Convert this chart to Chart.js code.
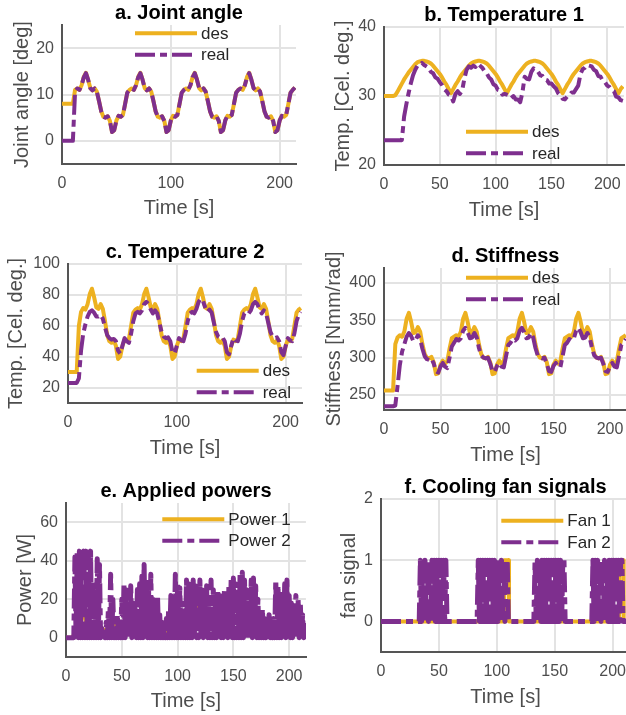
<!DOCTYPE html>
<html>
<head>
<meta charset="utf-8">
<script src="https://cdn.jsdelivr.net/npm/chart.js@4.4.1/dist/chart.umd.min.js"></script>
<style>
  html, body { margin: 0; padding: 0; background: #fff; }
  body { width: 626px; height: 715px; position: relative; overflow: hidden; }
  canvas { position: absolute; }
</style>
</head>
<body>
<canvas id="chartA"></canvas>
<canvas id="chartB"></canvas>
<canvas id="chartC"></canvas>
<canvas id="chartD"></canvas>
<canvas id="chartE"></canvas>
<canvas id="chartF"></canvas>
<script>
/* ===== DATA ===== */
// time base, 2 s steps
const time2 = [
  0, 2, 4, 6, 8, 10, 12, 14, 16, 18,
  20, 22, 24, 26, 28, 30, 32, 34, 36, 38,
  40, 42, 44, 46, 48, 50, 52, 54, 56, 58,
  60, 62, 64, 66, 68, 70, 72, 74, 76, 78,
  80, 82, 84, 86, 88, 90, 92, 94, 96, 98,
  100, 102, 104, 106, 108, 110, 112, 114, 116, 118,
  120, 122, 124, 126, 128, 130, 132, 134, 136, 138,
  140, 142, 144, 146, 148, 150, 152, 154, 156, 158,
  160, 162, 164, 166, 168, 170, 172, 174, 176, 178,
  180, 182, 184, 186, 188, 190, 192, 194, 196, 198,
  200, 202, 204, 206, 208, 210, 212, 214
];

// time base, 1 s steps
const time1 = [
  0, 1, 2, 3, 4, 5, 6, 7, 8, 9, 10, 11, 12, 13, 14, 15, 16, 17, 18, 19,
  20, 21, 22, 23, 24, 25, 26, 27, 28, 29, 30, 31, 32, 33, 34, 35, 36, 37, 38, 39,
  40, 41, 42, 43, 44, 45, 46, 47, 48, 49, 50, 51, 52, 53, 54, 55, 56, 57, 58, 59,
  60, 61, 62, 63, 64, 65, 66, 67, 68, 69, 70, 71, 72, 73, 74, 75, 76, 77, 78, 79,
  80, 81, 82, 83, 84, 85, 86, 87, 88, 89, 90, 91, 92, 93, 94, 95, 96, 97, 98, 99,
  100, 101, 102, 103, 104, 105, 106, 107, 108, 109, 110, 111, 112, 113, 114, 115, 116, 117, 118, 119,
  120, 121, 122, 123, 124, 125, 126, 127, 128, 129, 130, 131, 132, 133, 134, 135, 136, 137, 138, 139,
  140, 141, 142, 143, 144, 145, 146, 147, 148, 149, 150, 151, 152, 153, 154, 155, 156, 157, 158, 159,
  160, 161, 162, 163, 164, 165, 166, 167, 168, 169, 170, 171, 172, 173, 174, 175, 176, 177, 178, 179,
  180, 181, 182, 183, 184, 185, 186, 187, 188, 189, 190, 191, 192, 193, 194, 195, 196, 197, 198, 199,
  200, 201, 202, 203, 204, 205, 206, 207, 208, 209, 210, 211, 212, 213, 214, 215
];

// a. joint angle [deg]
const angleDes = [
  8, 8, 8, 8, 8, 8,
  11.0, 11.3, 11.0, 12.0, 13.8, 14.7, 13.2, 11.4, 10.9, 11.3, 10.6, 8.6, 6.4, 5.2, 5.0, 5.3, 4.3, 1.9, 2.3, 4.4, 5.4, 5.2, 5.6, 8.0, 10.4,
  11.0, 11.3, 11.0, 12.0, 13.8, 14.7, 13.2, 11.4, 10.9, 11.3, 10.6, 8.6, 6.4, 5.2, 5.0, 5.3, 4.3, 1.9, 2.3, 4.4, 5.4, 5.2, 5.6, 8.0, 10.4,
  11.0, 11.3, 11.0, 12.0, 13.8, 14.7, 13.2, 11.4, 10.9, 11.3, 10.6, 8.6, 6.4, 5.2, 5.0, 5.3, 4.3, 1.9, 2.3, 4.4, 5.4, 5.2, 5.6, 8.0, 10.4,
  11.0, 11.3, 11.0, 12.0, 13.8, 14.7, 13.2, 11.4, 10.9, 11.3, 10.6, 8.6, 6.4, 5.2, 5.0, 5.3, 4.3, 1.9, 2.3, 4.4, 5.4, 5.2, 5.6, 8.0, 10.4,
  11.0, 11.5
];
const angleReal = [
  0, 0, 0, 0, 0, 0,
  10.5, 11.3, 11.0, 12.0, 13.7, 14.6, 13.2, 11.4, 10.9, 11.3, 10.6, 8.6, 6.4, 5.2, 5.0, 5.3, 4.3, 1.9, 2.3, 4.4, 5.4, 5.2, 5.6, 8.0, 10.4,
  11.0, 11.3, 11.0, 12.0, 13.7, 14.6, 13.2, 11.4, 10.9, 11.3, 10.6, 8.6, 6.4, 5.2, 5.0, 5.3, 4.3, 1.9, 2.3, 4.4, 5.4, 5.2, 5.6, 8.0, 10.4,
  11.0, 11.3, 11.0, 12.0, 13.7, 14.6, 13.2, 11.4, 10.9, 11.3, 10.6, 8.6, 6.4, 5.2, 5.0, 5.3, 4.3, 1.9, 2.3, 4.4, 5.4, 5.2, 5.6, 8.0, 10.4,
  11.0, 11.3, 11.0, 12.0, 13.7, 14.6, 13.2, 11.4, 10.9, 11.3, 10.6, 8.6, 6.4, 5.2, 5.0, 5.3, 4.3, 1.9, 2.3, 4.4, 5.4, 5.2, 5.6, 8.0, 10.4,
  11.0, 11.5
];

// b. temperature 1 [Cel. deg.]
const temp1Des = [
  30, 30, 30, 30, 30,
  30.1, 30.6, 31.2, 31.8, 32.4, 32.9, 33.4, 33.8, 34.2, 34.6, 34.9, 35.0, 35.1, 35.1, 35.0, 34.9, 34.7, 34.4, 34.0, 33.6, 33.2, 32.7, 32.1, 31.6, 31.0,
  30.4, 31.0, 31.6, 32.1, 32.7, 33.2, 33.6, 34.0, 34.4, 34.7, 34.9, 35.0, 35.1, 35.1, 35.0, 34.9, 34.7, 34.4, 34.0, 33.6, 33.2, 32.7, 32.1, 31.6, 31.0,
  30.4, 31.0, 31.6, 32.1, 32.7, 33.2, 33.6, 34.0, 34.4, 34.7, 34.9, 35.0, 35.1, 35.1, 35.0, 34.9, 34.7, 34.4, 34.0, 33.6, 33.2, 32.7, 32.1, 31.6, 31.0,
  30.4, 31.0, 31.6, 32.1, 32.7, 33.2, 33.6, 34.0, 34.4, 34.7, 34.9, 35.0, 35.1, 35.1, 35.0, 34.9, 34.7, 34.4, 34.0, 33.6, 33.2, 32.7, 32.1, 31.6, 31.0,
  30.4, 31.0, 31.4
];
const temp1Real = [
  23.6, 23.6, 23.6, 23.6, 23.6, 23.6, 23.6, 23.6, 23.6, 27.0,
  28.8, 30.4, 31.8, 33.0, 33.8, 34.4, 34.5, 34.8, 34.5, 34.3,
  34.1, 33.5, 33.3, 32.7, 32.5, 32.0, 31.6, 31.0, 30.7, 30.2,
  30.0, 29.2, 30.3, 30.7, 30.3, 30.8, 32.5, 33.8, 34.3, 34.1,
  34.4, 34.2, 34.7, 34.4, 34.1, 33.6, 33.3, 32.7, 32.4, 31.7,
  31.5, 30.9, 30.8, 30.2, 30.3, 30.2, 30.1, 29.7, 30.0, 29.5,
  29.5, 29.1, 30.5, 32.8, 32.5, 32.4, 33.5, 34.0, 33.7, 33.5,
  33.0, 32.9, 32.4, 32.3, 31.8, 31.8, 31.4, 31.1, 30.4, 30.1,
  29.6, 29.5, 29.9, 30.1, 30.5, 30.5, 31.0, 31.5, 33.2, 33.9,
  34.1, 34.5, 34.4, 34.3, 33.8, 33.6, 32.9, 32.8, 32.2, 32.0,
  31.5, 31.3, 30.9, 30.7, 29.9, 29.8, 29.4, 29.3
];

// c. temperature 2 [Cel. deg.]
const temp2Des = [
  30, 30, 30, 30, 30, 60,
  69, 71.5, 70.5, 74, 80.5, 84, 78.5, 72, 71, 74, 71, 63, 54, 50, 49, 50.5, 47, 38.5, 40, 47, 51, 50, 51.5, 60, 68.5,
  70.5, 71.5, 70.5, 74, 80.5, 84, 78.5, 72, 71, 74, 71, 63, 54, 50, 49, 50.5, 47, 38.5, 40, 47, 51, 50, 51.5, 60, 68.5,
  70.5, 71.5, 70.5, 74, 80.5, 84, 78.5, 72, 71, 74, 71, 63, 54, 50, 49, 50.5, 47, 38.5, 40, 47, 51, 50, 51.5, 60, 68.5,
  70.5, 71.5, 70.5, 74, 80.5, 84, 78.5, 72, 71, 74, 71, 63, 54, 50, 49, 50.5, 47, 38.5, 40, 47, 51, 50, 51.5, 60, 68.5,
  70.5, 71.5
];
const temp2Real = [
  23, 23, 23, 23, 23, 26,
  44, 55, 61, 66, 69, 70, 68.5, 66, 66, 67, 64.5, 59, 54, 52, 51, 51.5, 50, 44, 42, 47, 52, 50, 49, 55, 63,
  68, 69, 68, 70, 74, 75.5, 74, 70.5, 68, 70, 68, 62, 56, 53, 52, 52.5, 50, 43, 42, 47, 52, 50.5, 50, 55, 63,
  68, 69, 68, 71, 75.5, 77.5, 76, 72, 69, 70.5, 68.5, 62, 56, 53, 52, 52.5, 50, 43, 41.5, 47, 52, 50.5, 50, 55, 63,
  68, 69, 68, 70, 74, 75.5, 74, 70.5, 68, 70, 68, 62, 56, 53, 52, 52.5, 50, 43, 41, 47, 52, 50.5, 50, 55, 63,
  67, 69
];

// d. stiffness [Nmm/rad]
const stiffDes = [
  256, 256, 256, 256, 256, 318,
  327, 330, 328, 335, 352, 360, 348, 333, 334, 341, 335, 318, 305, 300, 299, 301, 294, 278, 279, 291, 296, 292, 295, 312, 326,
  328, 330, 328, 335, 352, 360, 348, 333, 334, 341, 335, 318, 305, 300, 299, 301, 294, 278, 279, 291, 296, 292, 295, 312, 326,
  328, 330, 328, 335, 352, 360, 348, 333, 334, 341, 335, 318, 305, 300, 299, 301, 294, 278, 279, 291, 296, 292, 295, 312, 326,
  328, 330, 328, 335, 352, 360, 348, 333, 334, 341, 335, 318, 305, 300, 299, 301, 294, 278, 279, 291, 296, 292, 295, 312, 326,
  328, 330
];
const stiffReal = [
  235, 235, 235, 235, 235, 236,
  262, 290, 308, 318, 328, 333, 329, 322, 324, 330, 325, 312, 302, 298, 297, 299, 292, 282, 280, 288, 293, 288, 286, 300, 315,
  320, 325, 323, 326, 336, 340, 334, 326, 327, 333, 327, 313, 303, 300, 299, 300, 292, 282, 281, 289, 293, 288, 287, 302, 317,
  320, 325, 323, 326, 336, 340, 334, 326, 327, 333, 327, 313, 303, 300, 299, 300, 292, 282, 281, 289, 293, 288, 287, 302, 317,
  320, 325, 323, 326, 336, 340, 334, 326, 327, 333, 327, 313, 303, 300, 299, 300, 292, 282, 281, 289, 293, 288, 287, 302, 317,
  320, 325
];

// e. applied powers [W]  (power1 on time2, power2 on time1)
const power1 = [
  0, 0, 0, 0, 3, 10, 30, 22, 12, 8,
  6, 5, 4, 6, 5, 4, 5, 4, 4, 5,
  3, 4, 6, 8, 7, 4, 3, 4, 3, 4,
  3, 4, 5, 8, 10, 9, 6, 5, 4, 3,
  5, 6, 4, 5, 3, 3, 4, 7, 5, 4,
  3, 3, 2, 3, 3, 6, 9, 12, 14, 16,
  17, 15, 12, 10, 12, 10, 8, 6, 5, 4,
  3, 3, 4, 3, 5, 4, 3, 4, 6, 9,
  11, 13, 12, 8, 6, 4, 3, 3, 4, 5,
  3, 4, 8, 6, 4, 3, 3, 4, 3, 3,
  4, 5, 3, 4, 3, 3, 4, 3
];
const power2 = [
  0, 0, 0, 0, 0, 0, 0, 0, 42, 0, 44, 0, 45, 0, 44, 0, 45, 0, 45, 0,
  44, 0, 45, 0, 30, 0, 20, 0, 41, 0, 38, 0, 5, 0, 3, 0, 8, 0, 15, 0,
  33, 0, 20, 0, 10, 0, 12, 0, 5, 0, 20, 0, 28, 0, 25, 0, 22, 0, 27, 0,
  18, 0, 15, 0, 25, 0, 28, 0, 32, 0, 38, 0, 30, 0, 25, 0, 33, 0, 20, 0,
  15, 0, 22, 0, 12, 0, 8, 0, 6, 0, 10, 0, 15, 0, 22, 0, 20, 0, 33, 0,
  28, 0, 26, 0, 18, 0, 14, 0, 30, 0, 28, 0, 25, 0, 30, 0, 27, 0, 20, 0,
  30, 0, 25, 0, 20, 0, 27, 0, 22, 0, 30, 0, 25, 0, 18, 0, 25, 0, 22, 0,
  20, 0, 25, 0, 22, 0, 27, 0, 30, 0, 31, 0, 28, 0, 25, 0, 33, 0, 34, 0,
  30, 0, 25, 0, 20, 0, 30, 0, 31, 0, 27, 0, 20, 0, 12, 0, 15, 0, 10, 0,
  8, 0, 12, 0, 5, 0, 10, 0, 30, 0, 27, 0, 24, 0, 20, 0, 28, 0, 30, 0,
  22, 0, 18, 0, 15, 0, 22, 0, 20, 0, 18, 0, 12, 0, 8, 0
];

// f. cooling fan signals
const fan1Time = [0, 106, 106.5, 110, 110.5, 205, 205.5, 209, 209.5, 215];
const fan1 = [0, 0, 1, 1, 0, 0, 1, 1, 0, 0];
const fan2 = [
  0, 0, 0, 0, 0, 0, 0, 0, 0, 0, 0, 0, 0, 0, 0, 0, 0, 0, 0, 0,
  0, 0, 0, 0, 0, 0, 0, 0, 0, 0, 0, 0, 0, 0, 1, 0, 1, 0, 1, 0,
  1, 0, 1, 0, 1, 0, 1, 0, 1, 0, 1, 0, 1, 0, 1, 0, 1, 0, 0, 0,
  0, 0, 0, 0, 0, 0, 0, 0, 0, 0, 0, 0, 0, 0, 0, 0, 0, 0, 0, 0,
  0, 0, 0, 0, 1, 0, 1, 0, 1, 0, 1, 0, 1, 0, 1, 0, 1, 0, 1, 0,
  1, 0, 1, 0, 1, 0, 1, 0, 1, 1, 0, 0, 0, 0, 0, 0, 0, 0, 0, 0,
  0, 0, 0, 0, 0, 0, 0, 0, 0, 0, 0, 0, 0, 1, 0, 1, 0, 1, 0, 1,
  0, 1, 0, 1, 0, 1, 0, 1, 0, 1, 0, 1, 0, 1, 0, 1, 0, 1, 1, 0,
  0, 0, 0, 0, 0, 0, 0, 0, 0, 0, 0, 0, 0, 0, 0, 0, 0, 0, 0, 0,
  0, 0, 0, 1, 0, 1, 0, 1, 0, 1, 0, 1, 0, 1, 0, 1, 0, 1, 0, 1,
  0, 1, 0, 1, 0, 1, 0, 1, 1, 0, 0, 0, 0, 0, 0, 0
];

// axis ticks
const ticksTime100 = [0, 100, 200];
const ticksTime50 = [0, 50, 100, 150, 200];
const ticksAngle = [0, 10, 20];
const ticksTemp1 = [20, 30, 40];
const ticksTemp2 = [20, 40, 60, 80, 100];
const ticksStiff = [250, 300, 350, 400];
const ticksPower = [0, 20, 40, 60];
const ticksFan = [0, 1, 2];

/* ===== STYLE ===== */
const ORANGE = "#EDB120";
const PURPLE = "#7E2F8E";
const DASH_DOT = [20, 5, 7, 5];
const FONT = '"Liberation Sans", Arial, Helvetica, sans-serif';
const GREY_TXT = "#4d4d4d";

Chart.defaults.font.family = FONT;

/* ===== TITLE + LEGEND PLUGIN ===== */
const panelDecor = {
  id: "panelDecor",
  afterDraw(chart, args, opts) {
    const ctx = chart.ctx;
    const ca = chart.chartArea;
    ctx.save();
    ctx.font = "bold 20px " + FONT;
    ctx.fillStyle = "#000";
    ctx.textAlign = "center";
    ctx.textBaseline = "middle";
    ctx.fillText(opts.title, (ca.left + ca.right) / 2, ca.top - 11.5);

    ctx.font = "17px " + FONT;
    chart.data.datasets.forEach((ds, i) => {
      const y = opts.legendY + i * 21.5;
      ctx.strokeStyle = ds.borderColor;
      ctx.lineWidth = 4;
      ctx.lineCap = "butt";
      ctx.setLineDash(ds.borderDash || []);
      ctx.beginPath();
      ctx.moveTo(opts.legendX, y);
      ctx.lineTo(opts.legendX + 62, y);
      ctx.stroke();
      ctx.setLineDash([]);
      ctx.fillStyle = "#262626";
      ctx.textAlign = "left";
      ctx.fillText(ds.label, opts.legendX + 66, y + 1);
    });
    ctx.restore();
  }
};

function pts(xs, ys) {
  return xs.map((x, i) => ({ x: x, y: ys[i] }));
}

/* ===== PANEL BUILDER ===== */
function makePanel(p) {
  const [cl, ct, cw, ch] = p.box;
  const [al, at, ar, ab] = p.area;
  const canvas = document.getElementById(p.id);
  canvas.width = cw;
  canvas.height = ch;
  canvas.style.left = cl + "px";
  canvas.style.top = ct + "px";

  new Chart(canvas, {
    type: "line",
    data: {
      datasets: [
        { label: p.labels[0], data: p.series[0], borderColor: ORANGE, borderWidth: p.lw[0], order: 1 },
        { label: p.labels[1], data: p.series[1], borderColor: PURPLE, borderWidth: p.lw[1], borderDash: DASH_DOT, order: 0 }
      ]
    },
    options: {
      responsive: false,
      animation: false,
      events: [],
      layout: { padding: { left: 0, top: at - ct, right: cl + cw - ar, bottom: 0 } },
      elements: {
        point: { radius: 0 },
        line: { tension: 0, borderCapStyle: "butt", borderJoinStyle: "round" }
      },
      plugins: {
        legend: { display: false },
        tooltip: { enabled: false },
        panelDecor: { title: p.title, legendX: p.legend[0] - cl, legendY: p.legend[1] - ct }
      },
      scales: {
        x: {
          type: "linear",
          min: 0,
          max: 215,
          afterBuildTicks: s => { s.ticks = p.xTicks.map(v => ({ value: v })); },
          afterFit: s => { s.height = ct + ch - ab; },
          grid: { color: "#e3e3e3", lineWidth: 2, drawTicks: false },
          border: { color: "#555", width: 2 },
          ticks: { color: GREY_TXT, font: { size: 16 }, padding: 10, maxRotation: 0, autoSkip: false },
          title: { display: true, text: "Time [s]", color: GREY_TXT, font: { size: 20 }, padding: { top: 0, bottom: p.xTitlePad } }
        },
        y: {
          type: "linear",
          min: p.yRange[0],
          max: p.yRange[1],
          afterBuildTicks: s => { s.ticks = p.yTicks.map(v => ({ value: v })); },
          afterFit: s => { s.width = al - cl; },
          grid: { color: "#e3e3e3", lineWidth: 2, drawTicks: false },
          border: { color: "#555", width: 2 },
          ticks: { color: GREY_TXT, font: { size: 16 }, padding: 8, autoSkip: false },
          title: { display: true, text: p.yTitle, color: GREY_TXT, font: { size: 20 }, padding: { top: p.yTitlePad, bottom: 0 } }
        }
      }
    },
    plugins: [panelDecor]
  });
}

/* ===== PANELS ===== */
makePanel({
  id: "chartA", box: [0, 0, 313, 230], area: [62, 25, 296, 164],
  title: "a. Joint angle", yTitle: "Joint angle [deg]", labels: ["des", "real"],
  series: [pts(time2, angleDes), pts(time2, angleReal)], lw: [4, 4],
  yRange: [-5, 25], yTicks: ticksAngle, xTicks: ticksTime100,
  yTitlePad: 10, xTitlePad: 10, legend: [135, 33.3]
});

makePanel({
  id: "chartB", box: [313, 0, 320, 230], area: [384, 27, 624, 165],
  title: "b. Temperature 1", yTitle: "Temp. [Cel. deg.]", labels: ["des", "real"],
  series: [pts(time2, temp1Des), pts(time2, temp1Real)], lw: [4, 4],
  yRange: [20, 40], yTicks: ticksTemp1, xTicks: ticksTime50,
  yTitlePad: 18.5, xTitlePad: 8, legend: [466, 131.7]
});

makePanel({
  id: "chartC", box: [0, 230, 313, 230], area: [68, 264, 302, 403],
  title: "c. Temperature 2", yTitle: "Temp. [Cel. deg.]", labels: ["des", "real"],
  series: [pts(time2, temp2Des), pts(time2, temp2Real)], lw: [4, 4],
  yRange: [10, 100], yTicks: ticksTemp2, xTicks: ticksTime100,
  yTitlePad: 4, xTitlePad: 0, legend: [196.7, 370.7]
});

makePanel({
  id: "chartD", box: [313, 230, 330, 240], area: [384, 268, 627, 410],
  title: "d. Stiffness", yTitle: "Stiffness [Nmm/rad]", labels: ["des", "real"],
  series: [pts(time2, stiffDes), pts(time2, stiffReal)], lw: [4, 4],
  yRange: [230, 420], yTicks: ticksStiff, xTicks: ticksTime50,
  yTitlePad: 9, xTitlePad: 3, legend: [466, 277.7]
});

makePanel({
  id: "chartE", box: [0, 460, 313, 255], area: [66, 503, 306, 657],
  title: "e. Applied powers", yTitle: "Power [W]", labels: ["Power 1", "Power 2"],
  series: [pts(time2, power1), pts(time1, power2)], lw: [4, 5],
  yRange: [-10, 70], yTicks: ticksPower, xTicks: ticksTime50,
  yTitlePad: 13, xTitlePad: 2, legend: [162.3, 519.3]
});

makePanel({
  id: "chartF", box: [313, 460, 330, 255], area: [381, 499, 630, 652],
  title: "f. Cooling fan signals", yTitle: "fan signal", labels: ["Fan 1", "Fan 2"],
  series: [pts(fan1Time, fan1), pts(time1, fan2)], lw: [4, 5],
  yRange: [-0.5, 2], yTicks: ticksFan, xTicks: ticksTime50,
  yTitlePad: 24.7, xTitlePad: 5.5, legend: [501.3, 520.7]
});
</script>
</body>
</html>
